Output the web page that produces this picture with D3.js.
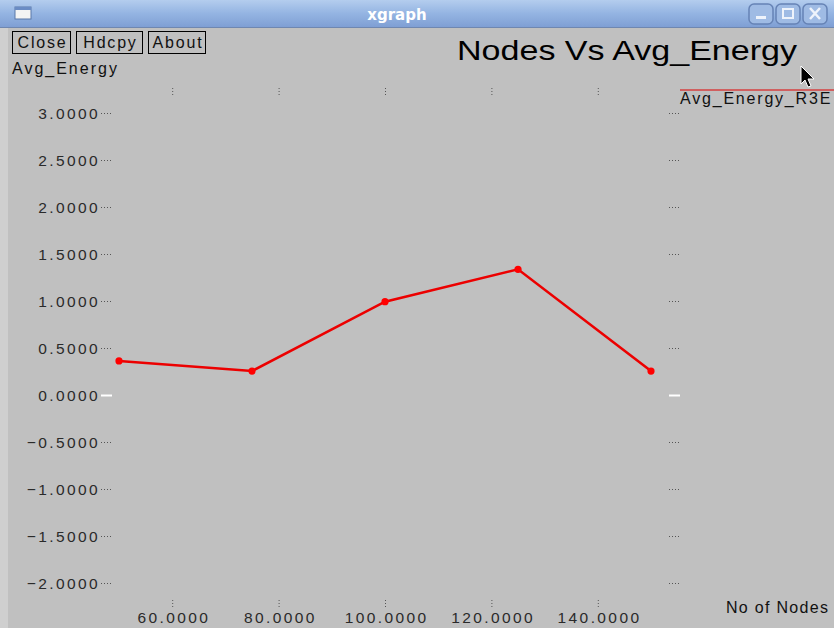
<!DOCTYPE html>
<html><head><meta charset="utf-8">
<script src="https://cdn.jsdelivr.net/npm/d3@7"></script>
<style>html,body{margin:0;padding:0;background:#c0c0c0;overflow:hidden}</style>
</head><body>
<script>
const nodes = [50, 75, 100, 125, 150];
const avgEnergy = [0.362, 0.255, 0.993, 1.337, 0.255];
const xTicks = [60, 80, 100, 120, 140];
const yTicks = [3.0, 2.5, 2.0, 1.5, 1.0, 0.5, 0.0, -0.5, -1.0, -1.5, -2.0];
const buttons = ["Close", "Hdcpy", "About"];
const title = "Nodes Vs Avg_Energy";
const seriesName = "Avg_Energy_R3E";

const W = 834, H = 628;
const svg = d3.select("body").append("svg").attr("width", W).attr("height", H)
  .style("display","block").style("font-family","'Liberation Sans', Arial, sans-serif");

// background
svg.append("rect").attr("width", W).attr("height", H).attr("fill", "#c0c0c0");
svg.append("rect").attr("x",0).attr("y",27).attr("width",8).attr("height",H-27).attr("fill","#cfcfcf");

// title bar
const defs = svg.append("defs");
const g1 = defs.append("linearGradient").attr("id","tb").attr("x1",0).attr("y1",0).attr("x2",0).attr("y2",1);
g1.append("stop").attr("offset","0").attr("stop-color","#b4cdee");
g1.append("stop").attr("offset","0.5").attr("stop-color","#94b4e2");
g1.append("stop").attr("offset","1").attr("stop-color","#7f9fd4");
svg.append("rect").attr("x",0).attr("y",0).attr("width",W).attr("height",27).attr("fill","url(#tb)");
svg.append("line").attr("x1",0).attr("x2",W).attr("y1",27.5).attr("y2",27.5).attr("stroke","#6f87b0");
svg.append("text").attr("x",397).attr("y",20).attr("text-anchor","middle")
  .attr("fill","#ffffff").attr("font-weight","bold").attr("font-size",15)
  .attr("font-family","'DejaVu Sans', sans-serif").text("xgraph");
// window icon
svg.append("rect").attr("x",15).attr("y",7).attr("width",16).attr("height",12).attr("fill","#f4f4f4").attr("stroke","#5a78a8");
svg.append("rect").attr("x",15).attr("y",7).attr("width",16).attr("height",3).attr("fill","#6b8cc4");
// window buttons
const wb = [749, 776, 803];
wb.forEach((bx,i) => {
  svg.append("rect").attr("x",bx).attr("y",4).attr("width",24).attr("height",20).attr("rx",5)
    .attr("fill","#9fbbe4").attr("stroke","#6683b5").attr("stroke-width",1.5);
  if (i===0) svg.append("rect").attr("x",bx+7).attr("y",16).attr("width",10).attr("height",3).attr("fill","#eef3fb");
  if (i===1) svg.append("rect").attr("x",bx+7).attr("y",9).attr("width",10).attr("height",9).attr("fill","none").attr("stroke","#eef3fb").attr("stroke-width",2);
  if (i===2) svg.append("path").attr("d",`M${bx+7},${8}L${bx+17},${19}M${bx+17},${8}L${bx+7},${19}`).attr("stroke","#eef3fb").attr("stroke-width",2.5);
});

// buttons
const bxs = [{x:12,w:58},{x:76,w:66},{x:148,w:57}];
buttons.forEach((b,i) => {
  svg.append("rect").attr("x",bxs[i].x+0.5).attr("y",31.5).attr("width",bxs[i].w).attr("height",22)
    .attr("fill","#c0c0c0").attr("stroke","#000").attr("stroke-width",1);
  svg.append("text").attr("x",bxs[i].x+bxs[i].w/2+1.5).attr("y",48).attr("text-anchor","middle")
    .attr("font-size",16).attr("letter-spacing","1.8px").attr("fill","#111").text(b);
});

// axis name
svg.append("text").attr("x",12).attr("y",74).attr("font-size",16).attr("letter-spacing","2px").attr("fill","#111").text("Avg_Energy");
// title
svg.append("text").attr("x",457).attr("y",60).attr("font-size",28).attr("fill","#000")
  .attr("textLength",340).attr("lengthAdjust","spacingAndGlyphs").text(title);

// scales
const x = d3.scaleLinear().domain([50,150]).range([119,651]);
const y = d3.scaleLinear().domain([0,3]).range([395,113]);

// y ticks: labels + dotted ticks
const fmt = d3.format(".4f");
const yAxisL = d3.axisLeft(y).tickValues(yTicks).tickFormat(fmt).tickSize(0).tickPadding(13);
const gy = svg.append("g").attr("transform","translate(113,0)").call(yAxisL);
gy.select(".domain").remove();
gy.selectAll("text").attr("font-size",15.5).attr("fill","#2a2a2a").attr("letter-spacing","2.4px")
  .attr("font-family","'Liberation Sans', Arial, sans-serif").attr("dy","0.36em");
gy.selectAll(".tick").append("line").attr("x1",-12).attr("x2",-1)
  .attr("stroke", d => d===0 ? "#ffffff" : "#555").attr("stroke-width", d => d===0 ? 2 : 1)
  .attr("stroke-dasharray", d => d===0 ? null : "1,2");

const gyR = svg.append("g").attr("transform","translate(669,0)").call(d3.axisRight(y).tickValues(yTicks).tickSize(0).tickFormat(""));
gyR.select(".domain").remove();
gyR.selectAll(".tick").append("line").attr("x1",0).attr("x2",11)
  .attr("stroke", d => d===0 ? "#ffffff" : "#555").attr("stroke-width", d => d===0 ? 2 : 1)
  .attr("stroke-dasharray", d => d===0 ? null : "1,2");

// x ticks
const xAxisB = d3.axisBottom(x).tickValues(xTicks).tickFormat(fmt).tickSize(0).tickPadding(0);
const gx = svg.append("g").attr("transform","translate(0,623)").call(xAxisB);
gx.select(".domain").remove();
gx.selectAll("text").attr("font-size",15.5).attr("fill","#2a2a2a").attr("letter-spacing","2.4px")
  .attr("font-family","'Liberation Sans', Arial, sans-serif").attr("dy","0").attr("dx","1.2");
gx.selectAll(".tick").append("line").attr("y1",-23).attr("y2",-15)
  .attr("stroke","#555").attr("stroke-dasharray","1,2");
const gxT = svg.append("g").attr("transform","translate(0,88)").call(d3.axisTop(x).tickValues(xTicks).tickSize(0).tickFormat(""));
gxT.select(".domain").remove();
gxT.selectAll(".tick").append("line").attr("y1",0).attr("y2",8)
  .attr("stroke","#555").attr("stroke-dasharray","1,2");

// data line
const data = nodes.map((n,i) => ({x:n, y:avgEnergy[i]}));
svg.append("path").datum(data)
  .attr("d", d3.line().x(d => x(d.x)).y(d => y(d.y)))
  .attr("fill","none").attr("stroke","#ec0000").attr("stroke-width",2.6);
svg.selectAll("circle.pt").data(data).enter().append("circle").attr("class","pt")
  .attr("cx", d => x(d.x)).attr("cy", d => y(d.y)).attr("r",3.6).attr("fill","#ff0000");

// legend
svg.append("line").attr("x1",680).attr("x2",W).attr("y1",90).attr("y2",90).attr("stroke","#e00000").attr("stroke-width",1.2);
svg.append("text").attr("x",680).attr("y",104).attr("font-size",16).attr("fill","#111")
  .attr("letter-spacing","1.8px").text(seriesName);

// x axis name
svg.append("text").attr("x",726).attr("y",613).attr("font-size",16).attr("fill","#111")
  .attr("letter-spacing","1.3px").text("No of Nodes");

// mouse cursor
svg.append("path").attr("d","M801,66 L801,84 L805,80 L808,87 L811,86 L808,79 L814,79 Z")
  .attr("fill","#000").attr("stroke","#fff").attr("stroke-width",1);
</script>
</body></html>
